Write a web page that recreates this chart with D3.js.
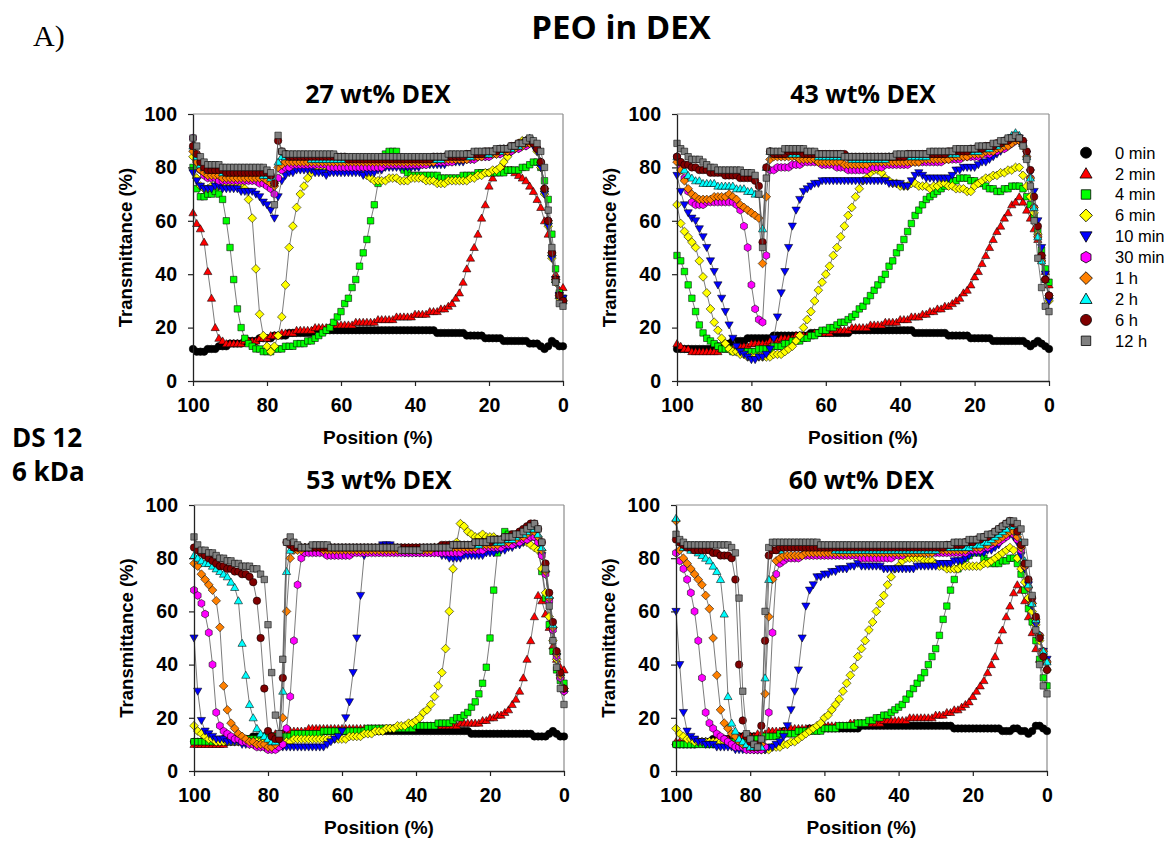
<!DOCTYPE html>
<html><head><meta charset="utf-8">
<script src="https://cdn.jsdelivr.net/npm/d3@7"></script>
<style>body{margin:0;background:#fff;}svg{display:block;}</style>
</head><body>
<svg id="c" width="1171" height="842"></svg>
<script>
// ---------------- DATA ----------------
const positions = [100,99,98,97,96,95,94,93,92,91,90,89,88,87,86,85,84,83,82,81,80,79,78,77,76,75,74,73,72,71,70,69,68,67,66,65,64,63,62,61,60,59,58,57,56,55,54,53,52,51,50,49,48,47,46,45,44,43,42,41,40,39,38,37,36,35,34,33,32,31,30,29,28,27,26,25,24,23,22,21,20,19,18,17,16,15,14,13,12,11,10,9,8,7,6,5,4,3,2,1,0];
const seriesNames = ["0 min","2 min","4 min","6 min","10 min","30 min","1 h","2 h","6 h","12 h"];
const panelTitles = ["27 wt% DEX","43 wt% DEX","53 wt% DEX","60 wt% DEX"];
const xTicks = [100,80,60,40,20,0];
const yTicks = [0,20,40,60,80,100];

// 27 wt% DEX
const d27_t0 = [12,11,11,11,12,12,12,13,13,13, 14,14,14,14,15,15,15,15,16,16, 16,16,17,17,17,17,18,18,18,18, 18,18,18,19,19,19,19,19,19,19, 19,19,19,19,19,19,19,19,19,19, 19,19,19,19,19,19,19,19,19,19, 19,19,19,19,19,19,18,18,18,18, 18,18,18,18,17,17,17,17,17,16, 16,16,16,16,15,15,15,15,15,15, 15,14,14,14,13,12,13,15,14,13, 13];
const d27_t2 = [63,59,57,52,41,31,20,16,15,14, 14,14,14,14,15,15,15,15,16,16, 16,17,17,17,18,18,18,18,19,19, 19,19,19,20,20,20,20,20,21,21, 21,21,21,21,22,22,22,22,22,22, 23,23,23,23,23,24,24,24,24,24, 25,25,25,25,26,26,26,27,27,28, 29,31,33,37,42,46,50,55,61,66, 73,76,78,79,80,79,79,78,77,76, 75,73,71,68,65,60,55,48,40,34, 35];
const d27_t4 = [80,72,69,69,70,70,71,70,68,60, 50,38,27,20,16,14,13,12,12,11, 11,11,12,12,12,13,13,13,14,14, 14,15,15,16,17,18,19,20,22,24, 26,29,31,35,38,43,48,53,60,66, 74,80,85,86,86,86,83,79,78,77, 77,77,77,77,77,77,77,76,76,76, 76,76,76,77,77,77,77,78,78,78, 78,78,78,78,78,79,79,79,79,80, 80,81,82,82,80,75,68,55,42,33, 31];
const d27_t6 = [84,76,73,72,72,73,73,73,73,73, 73,73,73,73,72,68,61,42,25,17, 13,11,13,17,24,36,50,58,65,70, 73,76,78,79,79,79,79,79,79,79, 79,79,79,79,79,79,78,77,76,75, 75,75,75,76,76,76,75,75,75,76, 76,76,76,75,75,75,74,74,74,75, 75,75,75,75,75,76,76,77,77,78, 78,79,79,80,82,84,86,88,89,90, 90,90,89,86,80,70,58,46,37,31, 30];
const d27_t10 = [78,75,73,72,72,72,73,73,72,72, 72,72,72,71,71,71,71,70,69,67, 66,64,61,69,75,77,78,78,79,79, 79,79,79,78,78,78,77,78,78,78, 78,78,78,78,78,78,77,78,78,78, 79,79,80,80,80,80,80,80,80,80, 80,80,81,81,81,81,81,81,81,82, 82,82,82,82,83,83,83,84,84,84, 84,85,85,85,86,86,86,87,87,88, 88,89,88,86,80,70,58,46,38,32, 31];
const d27_t30 = [91,84,79,77,76,76,76,75,75,75, 75,75,75,75,75,75,75,75,74,74, 73,72,70,76,79,80,80,81,81,81, 81,81,81,81,81,81,81,80,80,80, 80,80,80,80,80,80,80,80,80,80, 80,80,81,81,81,81,81,81,81,81, 81,81,81,81,82,82,82,82,82,82, 82,83,83,83,83,83,83,84,84,84, 84,85,85,85,86,86,86,87,87,88, 88,89,89,87,82,72,60,48,38,32, 30];
const d27_h1 = [86,82,79,78,77,77,77,77,76,76, 76,76,76,76,76,76,76,76,76,76, 75,74,73,80,81,82,82,82,82,82, 82,82,82,82,82,82,82,82,82,82, 82,82,82,82,82,82,82,82,82,82, 82,82,82,82,82,82,82,82,82,82, 82,82,82,82,82,82,83,83,83,83, 83,83,83,83,83,84,84,84,84,85, 85,85,85,86,86,86,87,87,88,88, 89,89,89,87,82,72,60,48,38,32, 30];
const d27_h2 = [88,84,81,80,79,79,79,79,78,78, 78,78,78,78,78,78,78,78,78,77, 77,76,75,82,84,84,84,84,84,84, 84,84,83,83,83,83,83,83,83,83, 83,83,83,83,83,83,83,83,83,83, 83,83,83,83,83,83,83,83,83,83, 83,83,83,83,83,83,83,83,84,84, 84,84,84,84,84,84,85,85,85,85, 85,86,86,86,87,87,87,88,88,89, 90,91,90,88,82,72,60,48,38,32, 30];
const d27_h6 = [88,85,82,80,79,79,79,79,79,78, 78,78,78,78,78,78,78,78,78,78, 78,77,74,90,86,85,84,84,84,84, 84,84,84,84,84,84,84,84,84,84, 84,84,83,83,83,83,83,83,83,83, 83,83,83,83,83,83,83,83,83,83, 83,83,83,83,83,84,84,84,84,84, 84,84,84,84,85,85,85,85,85,86, 86,86,86,87,87,87,88,88,89,89, 90,90,89,87,82,72,60,48,38,32, 30];
const d27_h12 = [91,88,84,82,81,81,81,81,80,80, 80,80,80,80,80,80,80,80,80,80, 79,78,66,92,86,85,85,85,85,85, 85,85,85,85,85,85,85,85,85,84, 84,84,84,84,84,84,84,84,84,84, 84,84,84,84,84,84,84,84,84,84, 84,84,84,84,84,84,84,84,84,85, 85,85,85,85,85,85,86,86,86,86, 86,86,87,87,87,87,88,88,89,89, 90,91,90,89,86,80,64,50,37,29, 28];

// 43 wt% DEX
const d43_t0 = [12,12,12,12,12,12,12,12,12,12, 13,13,13,14,14,15,15,15,15,16, 16,16,16,16,16,16,17,17,17,17, 17,17,17,17,17,17,18,18,18,18, 18,18,18,18,18,18,18,19,19,19, 19,19,19,19,19,19,19,19,19,19, 19,19,19,19,18,18,18,18,18,18, 18,18,18,17,17,17,17,17,17,16, 16,16,16,16,16,15,15,15,15,15, 15,15,15,15,14,13,14,15,14,13, 12];
const d43_t2 = [14,13,12,12,11,11,11,11,11,11, 11,11,12,12,12,12,12,13,13,13, 14,14,14,14,14,15,15,15,16,16, 16,16,17,17,17,17,17,18,18,18, 18,18,19,19,19,19,19,20,20,20, 20,20,21,21,21,21,22,22,22,22, 23,23,23,24,24,24,25,25,26,26, 27,27,28,28,29,30,31,33,34,36, 39,41,44,47,50,53,56,58,61,63, 66,67,69,67,64,61,57,53,47,41, 36];
const d43_t4 = [47,45,41,36,31,26,21,18,16,15, 14,13,12,12,12,11,11,11,11,11, 11,11,12,12,12,12,13,13,13,14, 14,15,15,15,16,16,17,17,18,19, 19,20,20,21,22,22,23,24,25,27, 28,30,32,34,36,38,40,43,45,48, 50,53,56,59,62,64,66,68,69,70, 71,72,73,74,75,75,76,76,76,75, 75,74,74,73,72,72,71,71,72,72, 73,73,73,72,69,66,62,56,49,42, 37];
const d43_t6 = [66,59,56,54,52,50,45,39,33,27, 22,19,16,14,12,11,11,10,10,9, 9,9,9,9,9,9,10,10,10,11, 12,13,15,17,20,23,26,30,34,37, 40,43,47,50,54,58,62,65,69,72, 75,76,78,79,79,78,76,75,74,74, 73,73,73,74,74,73,73,73,72,73, 73,74,74,73,73,72,72,72,71,71, 73,74,75,76,76,77,77,78,78,79, 79,80,80,77,73,69,63,55,47,38, 30];
const d43_t10 = [77,71,66,63,61,60,57,54,50,45, 41,36,31,26,21,16,13,11,10,9, 8,8,9,9,10,12,16,24,33,41, 50,58,64,68,71,72,73,74,74,75, 75,75,75,75,75,75,75,75,75,75, 75,75,75,75,75,75,75,74,74,74, 74,73,73,75,77,78,77,76,76,76, 76,76,76,76,77,79,79,80,80,80, 80,81,82,82,83,84,85,86,87,88, 89,90,91,89,85,78,71,60,50,40, 30];
const d43_t30 = [84,80,76,71,67,66,66,66,67,67, 67,67,67,67,67,67,66,64,58,50, 36,27,23,22,47,79,79,80,80,80, 80,81,81,81,82,82,82,82,82,81, 81,81,81,80,80,80,79,79,79,79, 79,79,80,80,80,80,81,81,81,81, 81,81,81,82,82,82,82,82,82,82, 82,82,83,83,83,83,83,84,84,84, 84,84,85,85,85,86,86,87,87,88, 89,90,90,89,84,76,65,54,45,38, 32];
const d43_h1 = [82,79,75,72,70,69,68,68,68,68, 69,69,69,69,70,69,68,66,65,64, 63,62,61,44,69,83,84,84,84,84, 84,84,84,83,83,83,83,83,82,82, 82,82,82,82,82,81,81,81,81,81, 81,81,82,82,82,82,82,82,82,82, 82,82,82,82,82,82,83,83,83,83, 83,83,83,83,84,84,84,84,84,85, 85,85,85,86,86,86,87,87,88,88, 89,90,90,88,84,76,65,54,45,38, 32];
const d43_h2 = [84,82,79,77,76,75,75,74,74,74, 74,73,73,73,73,73,72,72,72,71, 71,70,70,57,80,86,85,85,85,85, 85,85,85,85,85,85,85,85,84,84, 84,84,84,84,84,84,84,83,83,83, 83,83,83,83,83,83,83,84,84,84, 84,84,84,84,84,84,84,84,85,85, 85,85,85,85,85,85,86,86,86,86, 86,86,87,87,87,88,88,89,90,91, 92,93,92,89,84,76,65,54,45,38, 32];
const d43_h6 = [84,82,81,81,80,80,79,79,79,78, 78,78,78,77,77,77,77,76,76,76, 76,75,73,52,80,86,85,85,85,85, 86,86,86,86,85,85,85,85,85,85, 85,85,85,85,85,85,84,84,84,84, 84,84,84,84,84,84,84,84,84,84, 84,84,85,85,85,85,85,85,85,85, 85,85,85,86,86,86,86,86,86,87, 87,87,87,88,88,88,89,89,90,90, 91,91,91,90,86,79,69,58,47,38, 32];
const d43_h12 = [89,87,86,84,83,83,83,82,81,80, 80,79,79,79,79,79,79,79,78,78, 78,77,70,50,76,86,86,86,86,87, 87,87,87,87,87,86,86,86,85,85, 85,85,85,85,85,84,84,84,84,84, 84,84,84,84,84,84,84,84,84,85, 85,85,85,85,85,85,85,85,86,86, 86,86,86,86,86,87,87,87,87,87, 87,88,88,88,88,89,89,90,90,91, 91,92,91,88,83,73,60,46,35,28, 26];

// 53 wt% DEX
const d53_t0 = [11,11,11,11,11,11,11,11,12,12, 12,12,12,12,12,12,13,13,13,13, 13,13,13,13,14,14,14,14,14,14, 14,14,14,15,15,15,15,15,15,15, 15,15,15,15,15,15,15,15,15,15, 15,15,15,15,15,15,15,15,15,15, 15,15,15,15,15,15,15,15,15,15, 15,15,15,15,15,14,14,14,14,14, 14,14,14,14,14,14,14,14,14,14, 14,14,13,13,13,13,14,15,14,13, 13];
const d53_t2 = [10,10,10,10,10,10,10,10,10,11, 11,11,11,11,12,12,12,12,12,13, 13,13,14,14,14,14,15,15,15,15, 15,16,16,16,16,16,16,16,16,16, 16,16,16,16,16,16,16,16,16,16, 16,16,16,16,16,16,16,16,16,16, 17,17,17,17,17,17,17,17,17,17, 17,17,18,18,18,18,18,18,19,19, 20,20,21,21,22,23,25,27,30,35, 42,49,58,66,64,59,54,47,42,39, 38];
const d53_t4 = [11,11,11,11,11,11,11,11,11,11, 11,11,12,12,12,12,12,12,12,13, 13,13,13,13,13,13,13,14,14,14, 14,14,14,14,14,15,15,15,15,15, 15,15,15,15,15,15,15,16,16,16, 16,16,16,16,16,16,16,16,16,16, 17,17,17,17,17,17,18,18,18,18, 19,20,20,21,22,24,26,29,33,39, 50,68,82,87,90,89,88,88,88,89, 89,89,88,84,75,65,55,45,38,34, 33];
const d53_t6 = [17,15,14,13,12,12,11,11,11,11, 11,11,11,11,11,11,11,11,11,11, 11,11,11,11,11,11,11,12,12,12, 12,12,12,12,12,12,12,12,12,12, 12,12,13,13,13,13,14,14,14,15, 15,15,16,16,16,17,17,17,18,18, 19,20,22,23,25,28,32,37,46,60, 76,86,93,92,90,89,88,88,89,88, 88,88,87,87,87,87,86,86,86,86, 86,85,84,83,76,67,58,49,42,35, 30];
const d53_t10 = [50,30,19,15,14,13,12,12,12,11, 11,11,11,10,10,10,10,10,9,9, 9,9,9,9,9,9,9,9,9,9, 9,9,9,9,9,9,10,11,12,13, 15,20,26,37,50,66,81,84,84,84, 84,85,85,85,84,83,83,82,82,82, 82,82,82,82,82,82,82,81,81,80, 80,80,80,81,81,81,81,81,81,82, 82,82,83,83,83,84,84,85,85,86, 87,88,88,86,81,74,64,53,43,35, 30];
const d53_t30 = [68,66,63,59,52,40,22,17,15,14, 13,12,12,11,11,10,10,9,9,9, 8,8,8,9,10,16,28,49,70,80, 82,82,82,82,82,82,81,81,81,81, 81,81,81,82,82,82,82,82,82,82, 82,82,82,82,82,82,82,82,82,82, 82,82,82,82,82,82,82,82,82,82, 82,82,82,83,83,83,83,83,83,84, 84,84,84,84,85,85,85,86,86,87, 87,88,88,86,81,74,64,53,43,35, 30];
const d53_h1 = [78,77,74,72,70,68,64,54,32,23, 18,16,14,13,12,11,11,10,10,10, 9,9,10,12,20,60,80,83,83,83, 84,84,84,84,84,83,83,83,83,83, 83,83,83,83,83,83,83,83,83,83, 83,83,83,83,83,83,83,83,83,83, 83,83,83,83,83,84,84,84,84,84, 84,84,84,84,84,84,84,85,85,85, 85,85,85,86,86,86,87,87,88,88, 89,90,90,88,83,75,65,54,44,36, 31];
const d53_h2 = [81,80,79,78,78,77,76,75,74,73, 71,69,64,48,36,25,20,16,14,13, 12,11,11,13,30,75,83,84,84,84, 84,84,84,84,84,84,84,84,84,84, 84,84,84,84,84,84,84,84,84,84, 84,84,84,84,84,84,84,84,84,84, 84,84,84,84,84,84,84,84,84,85, 85,85,85,85,85,85,85,85,86,86, 86,86,86,86,87,87,87,88,89,89, 90,91,91,89,84,76,66,55,45,37, 31];
const d53_h6 = [84,83,82,81,80,79,78,77,77,76, 76,75,75,74,74,73,71,64,50,31, 15,13,12,12,35,86,85,84,84,84, 84,84,84,84,84,84,84,84,84,84, 84,84,84,84,84,84,84,84,84,84, 84,84,84,84,84,84,84,84,84,84, 84,84,84,84,84,84,84,85,85,85, 85,85,85,85,85,85,86,86,86,86, 86,87,87,87,88,88,89,89,90,91, 92,93,93,91,86,78,67,56,45,37, 31];
const d53_h12 = [88,85,83,83,82,82,81,80,80,79, 79,78,78,77,77,77,76,76,74,72, 55,37,21,14,42,86,88,86,85,84, 84,84,85,85,85,85,85,84,84,84, 84,84,84,84,84,84,84,84,84,84, 84,84,84,84,84,84,83,83,83,83, 83,83,84,84,84,84,84,84,84,84, 85,85,85,85,85,85,86,86,86,86, 87,87,87,87,88,88,88,89,89,90, 91,92,93,91,86,76,62,49,39,31, 25];

// 60 wt% DEX
const d60_t0 = [10,10,10,10,10,10,11,11,11,11, 12,12,12,12,12,12,12,13,13,13, 13,13,13,13,13,14,14,14,14,15, 15,15,15,15,15,15,16,16,16,16, 16,16,16,16,16,16,16,16,16,16, 17,17,17,17,17,17,17,17,17,17, 17,17,17,17,17,17,17,17,17,17, 17,17,17,17,17,16,16,16,16,16, 16,16,16,16,16,16,16,16,15,15, 15,16,16,15,15,14,15,17,17,16, 15];
const d60_t2 = [11,11,11,11,11,11,11,11,11,11, 11,12,12,12,12,12,12,13,13,13, 13,13,14,14,14,15,15,15,15,15, 16,16,16,16,16,16,16,16,17,17, 17,17,17,17,17,17,17,18,18,18, 18,18,18,18,18,18,19,19,19,19, 19,19,19,20,20,20,20,20,20,20, 21,21,21,22,22,23,23,24,25,26, 28,30,32,34,37,40,43,49,53,58, 62,67,70,68,64,58,52,46,42,41, 39];
const d60_t4 = [10,10,10,10,10,10,10,10,10,10, 10,10,11,11,11,11,11,11,11,12, 12,12,12,12,13,13,13,13,14,14, 14,14,14,15,15,15,15,15,15,15, 16,16,16,16,17,17,17,17,17,18, 18,18,19,19,20,20,21,21,22,23, 24,25,27,29,31,33,35,37,40,43, 46,51,57,62,68,72,76,78,80,81, 82,83,82,80,79,78,78,78,79,79, 80,80,78,74,68,61,56,49,42,35, 32];
const d60_t6 = [16,14,13,12,12,11,11,11,11,11, 11,11,11,11,10,10,10,10,10,9, 9,8,8,8,8,8,9,9,9,10, 10,11,11,12,13,14,15,16,17,18, 20,21,23,25,27,30,33,36,39,43, 46,49,53,56,60,63,66,70,73,76, 77,79,80,80,80,80,80,79,79,79, 78,77,77,76,76,76,76,77,77,77, 77,77,77,78,78,79,80,81,82,83, 84,83,80,76,71,65,60,55,49,43, 38];
const d60_t10 = [60,40,22,15,13,12,11,11,10,10, 10,9,9,9,9,9,8,8,8,8, 8,8,8,8,8,9,9,10,11,13, 17,23,30,38,50,62,68,70,73,73, 74,74,75,75,76,76,76,77,77,78, 77,77,77,77,77,77,76,76,76,76, 76,76,76,76,76,77,77,77,77,77, 77,78,78,78,78,79,79,79,80,81, 82,82,82,82,83,83,84,85,87,88, 89,88,86,81,76,70,62,55,50,45, 42];
const d60_t30 = [82,79,76,72,67,60,49,35,22,18, 16,14,13,12,11,10,9,9,9,8, 8,8,8,8,9,22,52,74,78,79, 80,80,80,80,81,81,81,81,81,81, 81,81,81,81,81,81,81,81,81,81, 80,80,80,80,80,80,80,80,80,81, 81,81,82,82,82,82,82,82,82,82, 82,82,82,82,82,82,82,82,82,83, 83,83,83,84,84,85,86,86,87,88, 90,89,87,83,77,69,63,57,51,45, 41];
const d60_h1 = [94,83,80,78,76,74,72,70,66,61, 50,36,23,18,16,14,13,11,10,10, 9,9,9,10,29,58,72,79,80,81, 81,81,81,81,81,82,82,82,82,82, 82,82,82,82,82,82,82,82,82,82, 82,82,82,82,82,82,82,82,82,82, 82,82,82,82,82,82,82,82,82,82, 83,83,83,83,83,83,83,83,83,84, 84,84,84,85,85,86,86,87,88,89, 90,90,88,84,77,69,63,57,51,45, 41];
const d60_h2 = [95,86,84,84,83,83,82,81,80,79, 77,75,72,59,28,18,15,12,11,10, 9,9,9,9,35,72,83,83,83,84, 84,84,84,84,84,84,84,84,84,84, 84,84,84,83,83,83,83,83,83,83, 83,83,83,83,83,83,83,83,83,83, 83,83,83,83,83,83,83,83,83,83, 83,84,84,84,84,84,84,84,84,84, 85,85,85,86,86,87,88,89,90,91, 93,92,90,86,79,70,63,57,51,45, 41];
const d60_h6 = [87,86,85,84,84,83,83,83,83,83, 82,82,81,81,81,80,72,40,19,13, 11,10,10,17,49,81,83,83,84,84, 84,84,84,84,84,84,84,84,84,84, 84,84,84,84,84,84,84,84,84,84, 84,84,84,84,84,84,84,84,84,84, 84,84,84,84,84,84,84,84,84,84, 84,84,84,85,85,85,85,85,86,86, 86,87,87,88,88,89,90,91,92,93, 94,93,90,85,78,72,65,58,50,43, 38];
const d60_h12 = [89,87,86,85,85,85,85,85,85,85, 85,85,85,85,85,84,82,65,30,14, 12,10,9,12,60,84,86,86,86,86, 86,86,86,86,86,86,86,86,86,85, 85,85,85,85,85,85,85,85,85,85, 85,85,85,85,85,85,85,85,85,85, 85,85,85,85,85,85,85,85,85,85, 85,85,85,85,85,86,86,86,86,87, 87,87,88,88,89,89,90,91,92,93, 94,94,93,91,86,78,66,53,40,32, 29];

// ---------------- STYLE ----------------
const seriesColors = ["#000000","#ff0000","#00ff00","#ffff00","#0000ff","#ff00ff","#ff8000","#00ffff","#800000","#808080"];
const seriesShapes = ["circle","triUp","square","diamond","triDown","hexagon","diamond","triUp","circle","square"];

const panels = [
  {title: panelTitles[0], series: [d27_t0,d27_t2,d27_t4,d27_t6,d27_t10,d27_t30,d27_h1,d27_h2,d27_h6,d27_h12], l:193, t:114, w:370, h:267, tb:103},
  {title: panelTitles[1], series: [d43_t0,d43_t2,d43_t4,d43_t6,d43_t10,d43_t30,d43_h1,d43_h2,d43_h6,d43_h12], l:677, t:114, w:372, h:267, tb:103},
  {title: panelTitles[2], series: [d53_t0,d53_t2,d53_t4,d53_t6,d53_t10,d53_t30,d53_h1,d53_h2,d53_h6,d53_h12], l:194, t:505, w:370, h:266, tb:489},
  {title: panelTitles[3], series: [d60_t0,d60_t2,d60_t4,d60_t6,d60_t10,d60_t30,d60_h1,d60_h2,d60_h6,d60_h12], l:676, t:505, w:371, h:266, tb:489}
];

function shapePath(shape, s){
  const r = s/2;
  switch(shape){
    case "circle": return `M${r},0A${r},${r} 0 1,1 ${-r},0A${r},${r} 0 1,1 ${r},0Z`;
    case "square": { const a = s*0.43; return `M${-a},${-a}H${a}V${a}H${-a}Z`; }
    case "triUp": { const hh = s*0.9; return `M0,${-hh*0.6}L${s*0.55},${hh*0.45}L${-s*0.55},${hh*0.45}Z`; }
    case "triDown": { const hh = s*0.9; return `M0,${hh*0.6}L${s*0.55},${-hh*0.45}L${-s*0.55},${-hh*0.45}Z`; }
    case "diamond": { const a = s*0.58; return `M0,${-a}L${a},0L0,${a}L${-a},0Z`; }
    case "hexagon": { const pts=[]; for(let k=0;k<6;k++){const ang=Math.PI/2+k*Math.PI/3; pts.push([r*1.05*Math.cos(ang), r*1.05*Math.sin(ang)]);} return "M"+pts.map(p=>p[0].toFixed(2)+","+p[1].toFixed(2)).join("L")+"Z"; }
  }
}

const svg = d3.select("#c");
const FONT = "'Liberation Sans', Arial, sans-serif";
const TFONT = "'Open Sans', 'Liberation Sans', sans-serif";

// Header texts
svg.append("text").attr("x",33).attr("y",46).attr("font-family","'Liberation Serif', 'Times New Roman', serif").attr("font-size",30).text("A)");
svg.append("text").attr("x",621).attr("y",39).attr("text-anchor","middle").attr("font-family",TFONT).attr("font-weight","bold").attr("font-size",33).text("PEO in DEX");
svg.append("text").attr("x",12).attr("y",447).attr("font-family",TFONT).attr("font-weight","bold").attr("font-size",26).text("DS 12");
svg.append("text").attr("x",12).attr("y",481).attr("font-family",TFONT).attr("font-weight","bold").attr("font-size",26).text("6 kDa");

panels.forEach(p => {
  const x = d3.scaleLinear().domain([100,0]).range([p.l, p.l+p.w]);
  const y = d3.scaleLinear().domain([0,100]).range([p.t+p.h, p.t]);
  const g = svg.append("g");

  // frame: top & right gray
  g.append("line").attr("x1",p.l).attr("x2",p.l+p.w).attr("y1",p.t).attr("y2",p.t).attr("stroke","#8c8c8c").attr("stroke-width",1.2);
  g.append("line").attr("x1",p.l+p.w).attr("x2",p.l+p.w).attr("y1",p.t).attr("y2",p.t+p.h).attr("stroke","#8c8c8c").attr("stroke-width",1.2);

  // series
  p.series.forEach((vals, si) => {
    const pts = vals.map((v,i)=>[positions[i], v]).filter(d=>d[0]!==undefined && d[1]!==undefined);
    const line = d3.line().x(d=>x(d[0])).y(d=>y(d[1]));
    g.append("path").attr("d", line(pts)).attr("fill","none").attr("stroke","#5a5a5a").attr("stroke-width",0.8);
    g.append("g").selectAll("path").data(pts).join("path")
      .attr("transform", d=>`translate(${x(d[0])},${y(d[1])})`)
      .attr("d", shapePath(seriesShapes[si], 7.5))
      .attr("fill", seriesColors[si]).attr("stroke","#000").attr("stroke-width",0.55);
  });

  // axes
  const ax = g.append("g").attr("transform",`translate(0,${p.t+p.h})`)
    .call(d3.axisBottom(x).tickValues(xTicks).tickSize(5).tickSizeOuter(0).tickPadding(12));
  const ay = g.append("g").attr("transform",`translate(${p.l},0)`)
    .call(d3.axisLeft(y).tickValues(yTicks).tickSize(5).tickSizeOuter(0).tickPadding(11));
  [ax, ay].forEach(a => {
    a.select(".domain").attr("stroke","#222").attr("stroke-width",1.3);
    a.selectAll(".tick line").attr("stroke","#222").attr("stroke-width",1.2);
    a.selectAll(".tick text").attr("font-family",FONT).attr("font-weight","bold").attr("font-size",19.5).attr("fill","#000");
  });

  // titles
  g.append("text").attr("x",p.l+p.w/2).attr("y",p.tb).attr("text-anchor","middle")
    .attr("font-family",TFONT).attr("font-weight","bold").attr("font-size",25).text(p.title);
  g.append("text").attr("x",p.l+p.w/2).attr("y",p.t+p.h+63).attr("text-anchor","middle")
    .attr("font-family",FONT).attr("font-weight","bold").attr("font-size",19).text("Position (%)");
  g.append("text").attr("transform",`translate(${p.l-61},${p.t+p.h/2}) rotate(-90)`).attr("text-anchor","middle")
    .attr("font-family",FONT).attr("font-weight","bold").attr("font-size",18.5).text("Transmittance (%)");
});

// legend
const lg = svg.append("g");
seriesNames.forEach((n,i)=>{
  const yy = 152.7 + i*20.9;
  lg.append("path").attr("transform",`translate(1086,${yy})`).attr("d",shapePath(seriesShapes[i],11))
    .attr("fill",seriesColors[i]).attr("stroke","#000").attr("stroke-width",0.8);
  lg.append("text").attr("x",1115).attr("y",yy).attr("dy","0.36em").attr("font-family",FONT).attr("font-size",16.5).text(n);
});
</script>
</body></html>
